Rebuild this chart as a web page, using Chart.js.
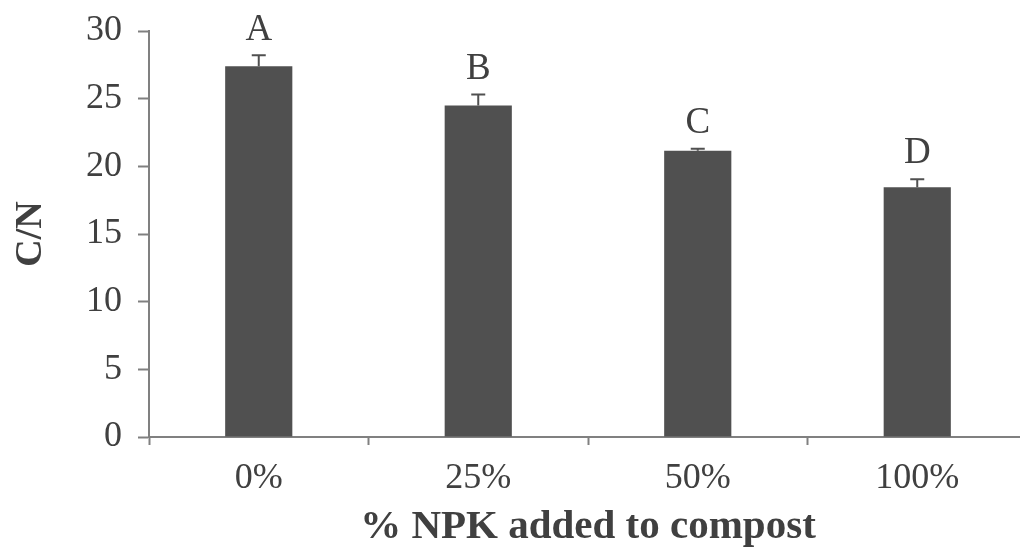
<!DOCTYPE html>
<html>
<head>
<meta charset="utf-8">
<script src="https://cdn.jsdelivr.net/npm/chart.js@4/dist/chart.umd.min.js"></script>
<style>
  html, body { margin: 0; padding: 0; background: #fff; overflow: hidden; }
  #wrap { position: absolute; left: 0; top: 0; width: 1027px; height: 548px; }
</style>
</head>
<body>
<div id="wrap"><canvas id="myChart" width="1027" height="548"></canvas></div>
<script>
var categories = ["0%", "25%", "50%", "100%"];
var cnValues = [27.4, 24.5, 21.15, 18.45];
var cnErrors = [0.8, 0.8, 0.15, 0.6];
var groupLetters = ["A", "B", "C", "D"];
var yTicks = [0, 5, 10, 15, 20, 25, 30];

var barColor = 'rgb(80, 80, 80)';
var axisColor = 'rgb(128, 128, 128)';
var textColor = 'rgb(64, 64, 64)';

// error bars + letters on top of each bar
var errorBars = {
    id: 'errorBars',
    afterDatasetsDraw: function(chart) {
        var ctx = chart.ctx;
        var meta = chart.getDatasetMeta(0);
        var y = chart.scales.y;
        ctx.save();
        ctx.strokeStyle = barColor;
        ctx.lineWidth = 2;
        ctx.fillStyle = textColor;
        ctx.font = '37px "Liberation Serif"';
        ctx.textAlign = 'center';
        ctx.textBaseline = 'bottom';
        meta.data.forEach(function(bar, i) {
            var yTop = y.getPixelForValue(cnValues[i] + cnErrors[i]);
            var yBase = y.getPixelForValue(cnValues[i]);
            ctx.beginPath();
            ctx.moveTo(bar.x, yBase);
            ctx.lineTo(bar.x, yTop);
            ctx.moveTo(bar.x - 7, yTop);
            ctx.lineTo(bar.x + 7, yTop);
            ctx.stroke();
            ctx.fillText(groupLetters[i], bar.x, yTop - 7);
        });
        ctx.restore();
    }
};

var ctx = document.getElementById('myChart').getContext('2d');
var chart = new Chart(ctx, {
    type: 'bar',
    data: {
        labels: categories,
        datasets: [{
            label: 'C/N',
            backgroundColor: barColor,
            data: cnValues,
            categoryPercentage: 1,
            barPercentage: 0.306
        }]
    },
    options: {
        responsive: false,
        animation: false,
        layout: { padding: { top: 31, right: 0, left: 0, bottom: 0 } },
        plugins: { legend: { display: false }, tooltip: { enabled: false } },
        scales: {
            x: {
                grid: { drawOnChartArea: false, color: axisColor, tickLength: 8, tickWidth: 2 },
                border: { color: axisColor, width: 2 },
                ticks: { color: textColor, font: { family: 'Liberation Serif', size: 36 }, padding: 12 },
                title: { display: true, text: '% NPK added to compost', color: textColor,
                         font: { family: 'Liberation Serif', size: 41, weight: 'bold', lineHeight: 1 }, padding: 0 },
                afterFit: function(scale) { scale.height = 111; scale.paddingLeft = 0; scale.paddingRight = 0; }
            },
            y: {
                min: 0, max: 30,
                afterBuildTicks: function(scale) { scale.ticks = yTicks.map(function(v) { return { value: v }; }); },
                grid: { drawOnChartArea: false, color: axisColor, tickLength: 11, tickWidth: 2 },
                border: { color: axisColor, width: 2 },
                ticks: { color: textColor, font: { family: 'Liberation Serif', size: 36 }, padding: 16 },
                title: { display: true, text: 'C/N', color: textColor,
                         font: { family: 'Liberation Serif', size: 38, weight: 'bold', lineHeight: 1 }, padding: 12 },
                afterFit: function(scale) { scale.width = 149; scale.paddingTop = 0; scale.paddingBottom = 0; }
            }
        }
    },
    plugins: [errorBars]
});
</script>
</body>
</html>
